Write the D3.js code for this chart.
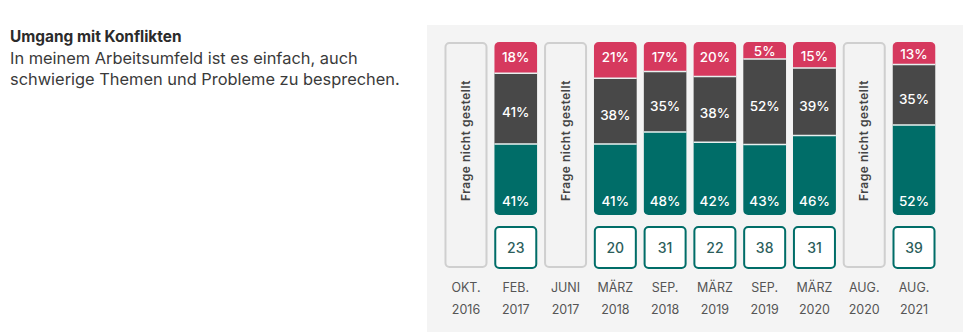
<!DOCTYPE html>
<html>
<head>
<meta charset="utf-8">
<script src="https://cdn.jsdelivr.net/npm/d3@7/dist/d3.min.js"></script>
<style>
  html, body { margin: 0; padding: 0; background: #ffffff; }
  svg { display: block; font-family: Inter, "Noto Sans", sans-serif; }
</style>
</head>
<body>
<svg id="chart" width="980" height="332"></svg>
<script>
// ---- data ----
const months = ["OKT.", "FEB.", "JUNI", "MÄRZ", "SEP.", "MÄRZ", "SEP.", "MÄRZ", "AUG.", "AUG."];
const years  = ["2016", "2017", "2017", "2018", "2018", "2019", "2019", "2020", "2020", "2021"];
const agree    = [null, 41, null, 41, 48, 42, 43, 46, null, 52];
const neutral  = [null, 41, null, 38, 35, 38, 52, 39, null, 35];
const disagree = [null, 18, null, 21, 17, 20, 5, 15, null, 13];
const counts   = [null, 23, null, 20, 31, 22, 38, 31, null, 39];
const notAsked = "Frage nicht gestellt";
const title = "Umgang mit Konflikten";
const subtitle = ["In meinem Arbeitsumfeld ist es einfach, auch", "schwierige Themen und Probleme zu besprechen."];

// ---- styles ----
const C = { red: "#d6395e", dark: "#484848", teal: "#006d68", panel: "#f4f4f4",
            grayStroke: "#cfcfcf", grayFill: "#f3f3f3", countText: "#2c5e5b", axis: "#555555" };

const svg = d3.select("#chart");

// title
svg.append("text").attr("x", 10).attr("y", 42).attr("font-size", 15.4).attr("font-weight", 700)
  .attr("fill", "#2b2b2b").text(title);
svg.selectAll("text.sub").data(subtitle).join("text").attr("class", "sub")
  .attr("x", 10).attr("y", (d, i) => 64 + i * 21).attr("font-size", 16.4).attr("fill", "#3a3a3a").text(d => d);

// panel
svg.append("rect").attr("x", 427).attr("y", 25).attr("width", 536).attr("height", 320).attr("fill", C.panel);

const idx = d3.range(months.length);
const x = d3.scaleBand().domain(idx).range([441.1, 938.9]).paddingInner(0.136).paddingOuter(0.068);
const barTop = 42, barBottom = 215, boxTop = 227, boxBottom = 268;
const y = d3.scaleLinear().domain([0, 100]).range([0, barBottom - barTop]);
const minRed = 17;

const g = svg.append("g");

idx.forEach(i => {
  const x0 = x(i), w = x.bandwidth(), cx = x0 + w / 2;
  if (agree[i] == null) {
    g.append("rect").attr("x", x0 + 1).attr("y", barTop + 1).attr("width", w - 2).attr("height", boxBottom - barTop - 2)
      .attr("rx", 4).attr("fill", C.grayFill).attr("stroke", C.grayStroke).attr("stroke-width", 2);
    g.append("text").attr("transform", `translate(${cx + 4},${(barTop + barBottom) / 2 + 12}) rotate(-90)`)
      .attr("text-anchor", "middle").attr("font-size", 12).attr("font-weight", 600).attr("fill", "#444")
      .attr("letter-spacing", 0.5).text(notAsked);
  } else {
    // heights with minimum for top segment
    let hR = y(disagree[i]), hN = y(neutral[i]), hA = y(agree[i]);
    const total = y(100);
    if (hR < minRed) {
      const rest = total - minRed;
      const s = neutral[i] + agree[i];
      hR = minRed; hN = rest * neutral[i] / s; hA = rest * agree[i] / s;
    }
    const clipId = "clip" + i;
    svg.append("clipPath").attr("id", clipId).append("rect")
      .attr("x", x0).attr("y", barTop).attr("width", w).attr("height", total).attr("rx", 5);
    const bg = g.append("g").attr("clip-path", `url(#${clipId})`);
    const segs = [
      { v: disagree[i], y0: barTop, h: hR, c: C.red, pos: "top" },
      { v: neutral[i], y0: barTop + hR, h: hN, c: C.dark, pos: "mid" },
      { v: agree[i], y0: barTop + hR + hN, h: hA, c: C.teal, pos: "bot" }
    ];
    bg.selectAll("rect").data(segs).join("rect")
      .attr("x", x0).attr("y", d => d.y0).attr("width", w).attr("height", d => d.h).attr("fill", d => d.c);
    // separators
    [segs[1].y0, segs[2].y0].forEach(sy => {
      bg.append("line").attr("x1", x0).attr("x2", x0 + w).attr("y1", sy).attr("y2", sy)
        .attr("stroke", "#e8f0ef").attr("stroke-width", 1.5);
    });
    segs.forEach(d => {
      let ty;
      if (d.pos === "top") ty = d.y0 + Math.min(15, d.h / 2 + 1);
      else if (d.pos === "mid") ty = d.y0 + d.h / 2 + 4;
      else ty = d.y0 + d.h - 14;
      g.append("text").attr("x", cx).attr("y", ty).attr("dy", "0.36em").attr("text-anchor", "middle")
        .attr("font-size", 13.5).attr("font-weight", 500).attr("fill", "#ffffff").text(d.v + "%");
    });
    // count box
    g.append("rect").attr("x", x0 + 1).attr("y", boxTop).attr("width", w - 2).attr("height", boxBottom - boxTop)
      .attr("rx", 4).attr("fill", "#ffffff").attr("stroke", C.teal).attr("stroke-width", 2);
    g.append("text").attr("x", cx).attr("y", (boxTop + boxBottom) / 2).attr("dy", "0.36em").attr("text-anchor", "middle")
      .attr("font-size", 14).attr("font-weight", 500).attr("fill", C.countText).text(counts[i]);
  }
  g.append("text").attr("x", cx).attr("y", 287).attr("dy", "0.36em").attr("text-anchor", "middle")
    .attr("font-size", 12.5).attr("fill", C.axis).text(months[i]);
  g.append("text").attr("x", cx).attr("y", 309).attr("dy", "0.36em").attr("text-anchor", "middle")
    .attr("font-size", 12.5).attr("fill", C.axis).text(years[i]);
});
</script>
</body>
</html>
